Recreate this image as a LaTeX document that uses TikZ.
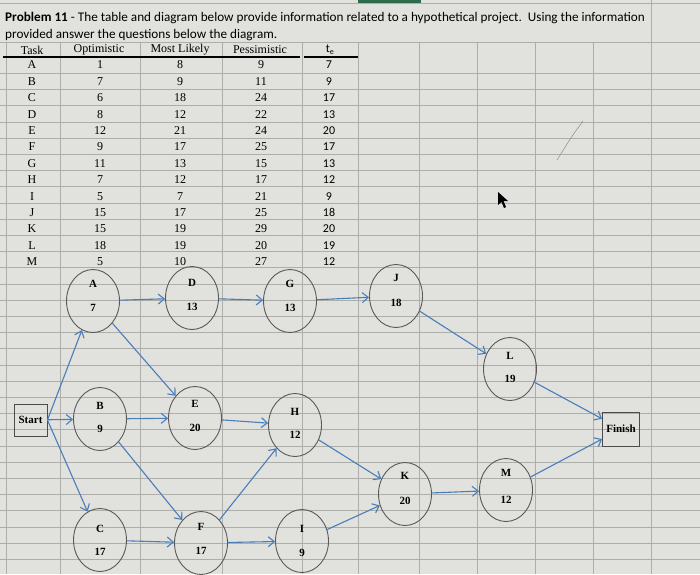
\documentclass[tikz,border=0pt]{standalone}
\usepackage{fontspec}
\setmainfont{Liberation Serif}
\newfontfamily\calibri{Carlito}
\usetikzlibrary{shapes.geometric,arrows.meta,calc}

\definecolor{sheet}{HTML}{E1E1DE}
\definecolor{gridline}{HTML}{ADADAA}
\definecolor{arrowblue}{HTML}{4A7EBB}
\definecolor{selgreen}{HTML}{2E6B4A}

\begin{document}
\begin{tikzpicture}[x=1pt,y=-1pt,
  task/.style={ellipse,draw=black!65,line width=0.9pt,minimum width=53pt,minimum height=63pt,inner sep=0pt},
  endbox/.style={rectangle,draw=black!70,line width=0.9pt,minimum width=33pt,minimum height=32pt,inner sep=1pt,font=\bfseries\fontsize{11}{13}\selectfont},
  tag/.style={inner sep=0pt,font=\bfseries\fontsize{11}{13}\selectfont},
  cell/.style={inner sep=0pt,font=\fontsize{12}{14}\selectfont},
  link/.style={draw=arrowblue,line width=1.1pt,-{Straight Barb[length=6pt,width=10pt]}}]

% Sheet background
\fill[sheet] (0,0) rectangle (700,574);
\useasboundingbox (0,0) rectangle (700,574);
\fill[selgreen] (358,0) rectangle (421,2.5);

% Grid lines
\foreach \x in {6,60,140,222,302,358,419,477,535,593}
  \draw[gridline,line width=0.6pt] (\x,42) -- (\x,574);
\draw[gridline,line width=0.6pt] (651,0) -- (651,574);
\draw[gridline,line width=0.6pt] (0,3) -- (700,3);
\draw[gridline,line width=0.6pt] (0,42) -- (700,42);
\foreach \k in {1,...,32}
  \draw[gridline,line width=0.6pt] (0,57+16.2*\k) -- (700,57+16.2*\k);

% Title
\node[anchor=west,inner sep=0pt,font=\calibri\fontsize{13.2}{15}\selectfont] (title1) at (5,18)
  {\textbf{Problem 11} - The table and diagram below provide information related to a hypothetical project.\ \ Using the information};
\node[anchor=west,inner sep=0pt,font=\calibri\fontsize{13.2}{15}\selectfont] (title2) at (5,35)
  {provided answer the questions below the diagram.};

% Table header
\node[cell] (h-task) at (32,50) {Task};
\node[cell] (h-opt) at (99,50) {Optimistic};
\node[cell] (h-ml) at (180,50) {Most Likely};
\node[cell] (h-pess) at (260,50) {Pessimistic};
\node[cell,font=\calibri\fontsize{12}{14}\selectfont] (h-te) at (330,50) {t\textsubscript{e}};
\draw[black,line width=1.4pt] (3,57) -- (300,57);
\draw[black,line width=1.4pt] (304,57) -- (358,57);

% Table rows
\foreach \t/\o/\m/\p/\e [count=\i] in {A/1/8/9/7, B/7/9/11/9, C/6/18/24/17, D/8/12/22/13,
    E/12/21/24/20, F/9/17/25/17, G/11/13/15/13, H/7/12/17/12, I/5/7/21/9,
    J/15/17/25/18, K/15/19/29/20, L/18/19/20/19, M/5/10/27/12} {
  \node[cell] (r\i-task) at (32,48.6+16.4*\i) {\t};
  \node[cell] (r\i-opt) at (100,48.6+16.4*\i) {\o};
  \node[cell] (r\i-ml) at (180,48.6+16.4*\i) {\m};
  \node[cell] (r\i-pess) at (261,48.6+16.4*\i) {\p};
  \node[cell,font=\calibri\fontsize{12}{14}\selectfont] (r\i-te) at (329,48.6+16.4*\i) {\e};
}

% Start and finish
\node[endbox] (Start) at (30.5,420) {Start};
\node[endbox,minimum width=37pt,minimum height=34pt] (Finish) at (621,429) {Finish};

% Tasks
\node[task] (A) at (93,301) {};
\node[tag] (A-id) at ($(A)+(0,-17)$) {A};
\node[tag] (A-te) at ($(A)+(0,7)$) {7};

\node[task] (D) at (192,298) {};
\node[tag] (D-id) at ($(D)+(0,-15)$) {D};
\node[tag] (D-te) at ($(D)+(0,9)$) {13};

\node[task] (G) at (290,301) {};
\node[tag] (G-id) at ($(G)+(0,-17)$) {G};
\node[tag] (G-te) at ($(G)+(0,7)$) {13};

\node[task] (J) at (396,296) {};
\node[tag] (J-id) at ($(J)+(0,-18)$) {J};
\node[tag] (J-te) at ($(J)+(0,7)$) {18};

\node[task] (L) at (510,369) {};
\node[tag] (L-id) at ($(L)+(0,-13)$) {L};
\node[tag] (L-te) at ($(L)+(0,10)$) {19};

\node[task] (B) at (100,419) {};
\node[tag] (B-id) at ($(B)+(0,-13)$) {B};
\node[tag] (B-te) at ($(B)+(0,10)$) {9};

\node[task] (E) at (195,418) {};
\node[tag] (E-id) at ($(E)+(0,-14)$) {E};
\node[tag] (E-te) at ($(E)+(0,10)$) {20};

\node[task] (H) at (295,425) {};
\node[tag] (H-id) at ($(H)+(0,-13)$) {H};
\node[tag] (H-te) at ($(H)+(0,10)$) {12};

\node[task] (K) at (405,494) {};
\node[tag] (K-id) at ($(K)+(0,-18)$) {K};
\node[tag] (K-te) at ($(K)+(0,7)$) {20};

\node[task] (M) at (506,490) {};
\node[tag] (M-id) at ($(M)+(0,-17)$) {M};
\node[tag] (M-te) at ($(M)+(0,10)$) {12};

\node[task] (C) at (100,540) {};
\node[tag] (C-id) at ($(C)+(0,-11)$) {C};
\node[tag] (C-te) at ($(C)+(0,12)$) {17};

\node[task] (F) at (201,543) {};
\node[tag] (F-id) at ($(F)+(0,-16)$) {F};
\node[tag] (F-te) at ($(F)+(0,8)$) {17};

\node[task] (I) at (302,541) {};
\node[tag] (I-id) at ($(I)+(0,-12)$) {I};
\node[tag] (I-te) at ($(I)+(0,12)$) {9};

% Precedence arrows
\draw[link] (Start.east) -- (A);
\draw[link] (Start) -- (B);
\draw[link] (Start.east) -- (C);
\draw[link] (A) -- (D);
\draw[link] (A) -- (E);
\draw[link] (D) -- (G);
\draw[link] (G) -- (J);
\draw[link] (J) -- (L);
\draw[link] (L) -- (Finish);
\draw[link] (B) -- (E);
\draw[link] (B) -- (F);
\draw[link] (E) -- (H);
\draw[link] (C) -- (F);
\draw[link] (F) -- (H);
\draw[link] (F) -- (I);
\draw[link] (H) -- (K);
\draw[link] (I) -- (K);
\draw[link] (K) -- (M);
\draw[link] (M) -- (Finish);

% Mouse pointer and pen mark
\fill[black] (498,192) -- (498,205) -- (501.5,202) -- (504,208) -- (506,207) -- (503.5,201) -- (508,201) -- cycle;
\draw[black!45,line width=0.5pt] (583,121) .. controls (572,136) .. (557,160);

\end{tikzpicture}
\end{document}
